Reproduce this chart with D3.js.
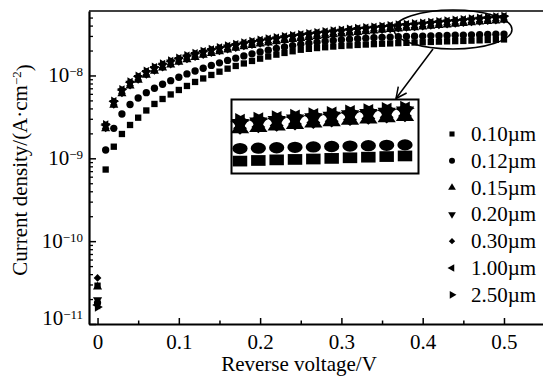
<!DOCTYPE html>
<html>
<head>
<meta charset="utf-8">
<script src="https://cdn.jsdelivr.net/npm/d3@7"></script>
<style>
  html, body { margin: 0; padding: 0; background: #fff; }
  svg { display: block; font-family: "Liberation Serif", "Times New Roman", serif; }
</style>
</head>
<body>
<svg id="chart" width="543" height="385"></svg>
<script>
// Reverse voltage (V)
const voltage = [0, 0.01, 0.02, 0.03, 0.04, 0.05, 0.06, 0.07, 0.08, 0.09,
  0.10, 0.11, 0.12, 0.13, 0.14, 0.15, 0.16, 0.17, 0.18, 0.19,
  0.20, 0.21, 0.22, 0.23, 0.24, 0.25, 0.26, 0.27, 0.28, 0.29,
  0.30, 0.31, 0.32, 0.33, 0.34, 0.35, 0.36, 0.37, 0.38, 0.39,
  0.40, 0.41, 0.42, 0.43, 0.44, 0.45, 0.46, 0.47, 0.48, 0.49, 0.50];

// Current density for each layer thickness, in units of 1e-9 A·cm^-2
const j010 = [0.029, 0.732, 1.381, 1.966, 2.525, 3.093, 3.78, 4.53, 5.20, 5.90,
  6.68, 7.47, 8.35, 9.20, 10.14, 11.11, 12.08, 13.02, 13.96, 14.97,
  15.96, 16.92, 17.84, 18.70, 19.60, 20.44, 20.96, 21.43, 21.91, 22.34,
  22.71, 23.03, 23.36, 23.62, 23.88, 24.15, 24.35, 24.56, 24.76, 24.97,
  25.18, 25.39, 25.60, 25.81, 25.96, 26.11, 26.33, 26.55, 26.77, 26.99, 27.22];
const j012 = [0.018, 1.259, 2.303, 3.428, 4.465, 5.350, 6.199, 7.004, 7.829, 8.655,
  9.512, 10.43, 11.33, 12.22, 13.21, 14.20, 15.18, 16.18, 17.20, 18.23,
  19.22, 20.21, 21.19, 22.09, 22.97, 23.81, 24.55, 25.25, 25.88, 26.47,
  26.99, 27.45, 27.83, 28.22, 28.53, 28.85, 29.09, 29.34, 29.58, 29.75,
  29.91, 30.08, 30.25, 30.42, 30.59, 30.76, 30.93, 31.10, 31.28, 31.45, 31.62];
const j015 = [0.028, 2.29, 4.39, 6.05, 7.50, 8.79, 10.10, 11.29, 12.37, 13.45,
  14.50, 15.54, 16.58, 17.57, 18.52, 19.47, 20.41, 21.34, 22.25, 23.13,
  23.99, 24.80, 25.64, 26.44, 27.26, 28.03, 28.81, 29.55, 30.29, 31.06,
  31.76, 32.47, 33.20, 33.86, 34.52, 35.20, 35.89, 36.59, 37.21, 37.84,
  38.58, 39.34, 40.11, 40.90, 41.71, 42.53, 43.36, 44.22, 44.96, 45.72, 46.48];
const j020 = [0.0195, 2.46, 4.71, 6.50, 8.05, 9.44, 10.84, 12.12, 13.28, 14.44,
  15.57, 16.69, 17.80, 18.86, 19.88, 20.90, 21.91, 22.91, 23.89, 24.84,
  25.76, 26.63, 27.53, 28.39, 29.26, 30.09, 30.94, 31.72, 32.52, 33.34,
  34.10, 34.86, 35.65, 36.35, 37.07, 37.79, 38.54, 39.29, 39.95, 40.63,
  41.42, 42.24, 43.06, 43.91, 44.78, 45.67, 46.55, 47.48, 48.28, 49.09, 49.91];
const j030 = [0.036, 2.30, 4.41, 6.08, 7.53, 8.83, 10.15, 11.35, 12.43, 13.52,
  14.57, 15.62, 16.66, 17.66, 18.61, 19.57, 20.51, 21.45, 22.37, 23.25,
  24.11, 24.94, 25.78, 26.58, 27.40, 28.17, 28.97, 29.70, 30.45, 31.22,
  31.93, 32.64, 33.38, 34.04, 34.70, 35.38, 36.08, 36.79, 37.41, 38.04,
  38.78, 39.55, 40.32, 41.11, 41.92, 42.76, 43.59, 44.46, 45.20, 45.96, 46.73];
const j100 = [0.017, 2.53, 4.85, 6.69, 8.28, 9.71, 11.16, 12.47, 13.67, 14.87,
  16.02, 17.18, 18.32, 19.41, 20.46, 21.51, 22.55, 23.58, 24.59, 25.57,
  26.51, 27.42, 28.34, 29.22, 30.12, 30.98, 31.85, 32.66, 33.47, 34.32,
  35.10, 35.89, 36.70, 37.42, 38.16, 38.90, 39.67, 40.45, 41.13, 41.82,
  42.64, 43.48, 44.33, 45.20, 46.10, 47.01, 47.92, 48.88, 49.70, 50.54, 51.38];
const j250 = [0.016, 2.55, 4.90, 6.75, 8.36, 9.81, 11.27, 12.59, 13.80, 15.01,
  16.18, 17.34, 18.50, 19.60, 20.66, 21.72, 22.77, 23.81, 24.83, 25.81,
  26.77, 27.68, 28.61, 29.50, 30.41, 31.27, 32.15, 32.97, 33.79, 34.65,
  35.44, 36.23, 37.05, 37.78, 38.52, 39.27, 40.05, 40.83, 41.52, 42.22,
  43.05, 43.89, 44.75, 45.63, 46.53, 47.46, 48.38, 49.34, 50.17, 51.02, 51.87];

const seriesLabels = ["0.10µm", "0.12µm", "0.15µm", "0.20µm", "0.30µm", "1.00µm", "2.50µm"];
const seriesValues = [j010, j012, j015, j020, j030, j100, j250];

const xTickValues = [0, 0.1, 0.2, 0.3, 0.4, 0.5];
const xMinorTicks = [0.05, 0.15, 0.25, 0.35, 0.45];
const yTickValues = [1e-11, 1e-10, 1e-9, 1e-8];

const UNIT = 1e-9;
const FONT = 21;

// marker shapes: symbol type, base size, rotation
const markerDefs = [
  { type: d3.symbolSquare,   size: 40, rot: 0 },
  { type: d3.symbolCircle,   size: 42, rot: 0 },
  { type: d3.symbolTriangle, size: 36, rot: 0 },
  { type: d3.symbolTriangle, size: 36, rot: 180 },
  { type: d3.symbolSquare,   size: 30, rot: 45 },
  { type: d3.symbolTriangle, size: 36, rot: -90 },
  { type: d3.symbolTriangle, size: 36, rot: 90 }
];
const legendSizes = [26, 28, 26, 26, 20, 26, 26];

const svg = d3.select("#chart");
const plot = { left: 89, right: 543, top: 11, bottom: 324 };

const x = d3.scaleLinear().domain([-0.0105, 0.548]).range([plot.left, plot.right]);
const y = d3.scaleLog().domain([1e-11, 6e-8]).range([plot.bottom, plot.top]);

// frame top line
svg.append("line")
  .attr("x1", plot.left).attr("x2", plot.right)
  .attr("y1", plot.top).attr("y2", plot.top)
  .attr("stroke", "#000").attr("stroke-width", 1.6);

// x axis
const xAxis = svg.append("g")
  .attr("transform", `translate(0,${plot.bottom})`)
  .call(d3.axisBottom(x).tickValues(xTickValues).tickSizeInner(-6).tickSizeOuter(0)
    .tickPadding(10).tickFormat(d => d === 0 ? "0" : d3.format(".1f")(d)));
xAxis.select(".domain").attr("stroke-width", 2);
xAxis.selectAll(".tick line").attr("stroke-width", 1.5);
xAxis.selectAll("text").attr("font-size", FONT).attr("font-family", "Liberation Serif").attr("fill", "#000");

const xMinor = svg.append("g")
  .attr("transform", `translate(0,${plot.bottom})`)
  .call(d3.axisBottom(x).tickValues(xMinorTicks).tickSizeInner(-3.5).tickSizeOuter(0).tickFormat(""));
xMinor.select(".domain").remove();
xMinor.selectAll(".tick line").attr("stroke-width", 1.5);

// y axis
const yAxis = svg.append("g")
  .attr("transform", `translate(${plot.left},0)`)
  .call(d3.axisLeft(y).tickValues(yTickValues).tickSizeInner(-7).tickSizeOuter(0).tickPadding(6));
yAxis.select(".domain").attr("stroke-width", 2.2);
yAxis.selectAll(".tick line").attr("stroke-width", 1.5);
yAxis.selectAll(".tick text").each(function (d) {
  const t = d3.select(this);
  t.text(null)
    .attr("font-size", FONT).attr("font-family", "Liberation Serif").attr("fill", "#000")
    .attr("dy", d === 1e-11 ? "0.03em" : "0.31em");
  t.append("tspan").text("10");
  t.append("tspan").attr("dy", "-0.5em").attr("font-size", 13)
    .text("\u2212" + Math.round(-Math.log10(d)));
});

const yMinorVals = [];
[1e-11, 1e-10, 1e-9, 1e-8].forEach(dec => {
  for (let k = 2; k <= 9; k++) {
    const v = k * dec;
    if (v <= 6e-8) yMinorVals.push(v);
  }
});
const yMinor = svg.append("g")
  .attr("transform", `translate(${plot.left},0)`)
  .call(d3.axisLeft(y).tickValues(yMinorVals).tickSizeInner(-4).tickSizeOuter(0).tickFormat(""));
yMinor.select(".domain").remove();
yMinor.selectAll(".tick line").attr("stroke-width", 1.3);

// axis titles
svg.append("text")
  .attr("x", 299).attr("y", 371)
  .attr("text-anchor", "middle").attr("font-size", FONT)
  .text("Reverse voltage/V");

const yTitle = svg.append("text")
  .attr("transform", "translate(27,170) rotate(-90)")
  .attr("text-anchor", "middle").attr("font-size", FONT);
yTitle.append("tspan").text("Current density/(A\u00B7cm");
yTitle.append("tspan").attr("dy", "-0.5em").attr("font-size", 13).text("\u22122");
yTitle.append("tspan").attr("dy", "0.5em").text(")");

// data markers
const symGen = d3.symbol();
seriesValues.forEach((vals, si) => {
  const m = markerDefs[si];
  svg.append("g").selectAll("path")
    .data(vals.map((v, i) => ({ v: voltage[i], j: v * UNIT })))
    .join("path")
    .attr("d", symGen.type(m.type).size(m.size)())
    .attr("transform", d => `translate(${x(d.v)},${y(d.j)}) rotate(${m.rot})`)
    .attr("fill", "#000");
});

// highlight ellipse around the high-voltage end, with arrow to the magnified view
svg.append("ellipse")
  .attr("cx", 453).attr("cy", 29.5).attr("rx", 59).attr("ry", 19.5)
  .attr("fill", "none").attr("stroke", "#000").attr("stroke-width", 1.5);

const arrowFrom = [433, 49], arrowTo = [396, 98.5];
svg.append("line")
  .attr("x1", arrowFrom[0]).attr("y1", arrowFrom[1])
  .attr("x2", arrowTo[0]).attr("y2", arrowTo[1])
  .attr("stroke", "#000").attr("stroke-width", 1.5);
{
  const ang = Math.atan2(arrowTo[1] - arrowFrom[1], arrowTo[0] - arrowFrom[0]);
  const len = 12, spread = 0.45;
  const p1 = [arrowTo[0] - len * Math.cos(ang - spread), arrowTo[1] - len * Math.sin(ang - spread)];
  const p2 = [arrowTo[0] - len * Math.cos(ang + spread), arrowTo[1] - len * Math.sin(ang + spread)];
  svg.append("path")
    .attr("d", `M${p1}L${arrowTo}L${p2}`)
    .attr("fill", "none").attr("stroke", "#000").attr("stroke-width", 1.5);
}

// magnified view of the last ten voltage steps
const inset = { x: 231.5, y: 99.5, w: 187, h: 74 };
svg.append("rect")
  .attr("x", inset.x).attr("y", inset.y).attr("width", inset.w).attr("height", inset.h)
  .attr("fill", "#fff").attr("stroke", "#000").attr("stroke-width", 2);

const xIn = d3.scaleLinear().domain([0.41, 0.50]).range([240, 405]);
const yIn = d3.scaleLog().domain([30.85 * UNIT, 308.5 * UNIT]).range([146.7, -23.3]);
const insetMarkers = [
  { size: 115, sx: 1.35, sy: 1 },
  { size: 100, sx: 1.35, sy: 1 },
  { size: 110, sx: 1.15, sy: 1 },
  { size: 110, sx: 1.15, sy: 1 },
  { size: 80,  sx: 1.1,  sy: 1 },
  { size: 100, sx: 1.1,  sy: 1 },
  { size: 100, sx: 1.1,  sy: 1 }
];
seriesValues.forEach((vals, si) => {
  const m = markerDefs[si], im = insetMarkers[si];
  const pts = vals.map((v, i) => ({ v: voltage[i], j: v * UNIT })).filter(d => d.v >= 0.405);
  svg.append("g").selectAll("path")
    .data(pts)
    .join("path")
    .attr("d", symGen.type(m.type).size(im.size)())
    .attr("transform", d => `translate(${xIn(d.v)},${yIn(d.j)}) scale(${im.sx},${im.sy}) rotate(${m.rot})`)
    .attr("fill", "#000");
});

// legend
const legend = svg.append("g");
seriesLabels.forEach((lab, i) => {
  const cy = 134 + i * 26.8;
  const m = markerDefs[i];
  legend.append("path")
    .attr("d", symGen.type(m.type).size(legendSizes[i])())
    .attr("transform", `translate(452,${cy}) rotate(${m.rot})`)
    .attr("fill", "#000");
  legend.append("text")
    .attr("x", 471).attr("y", cy + 7)
    .attr("font-size", FONT)
    .text(lab);
});
</script>
</body>
</html>
